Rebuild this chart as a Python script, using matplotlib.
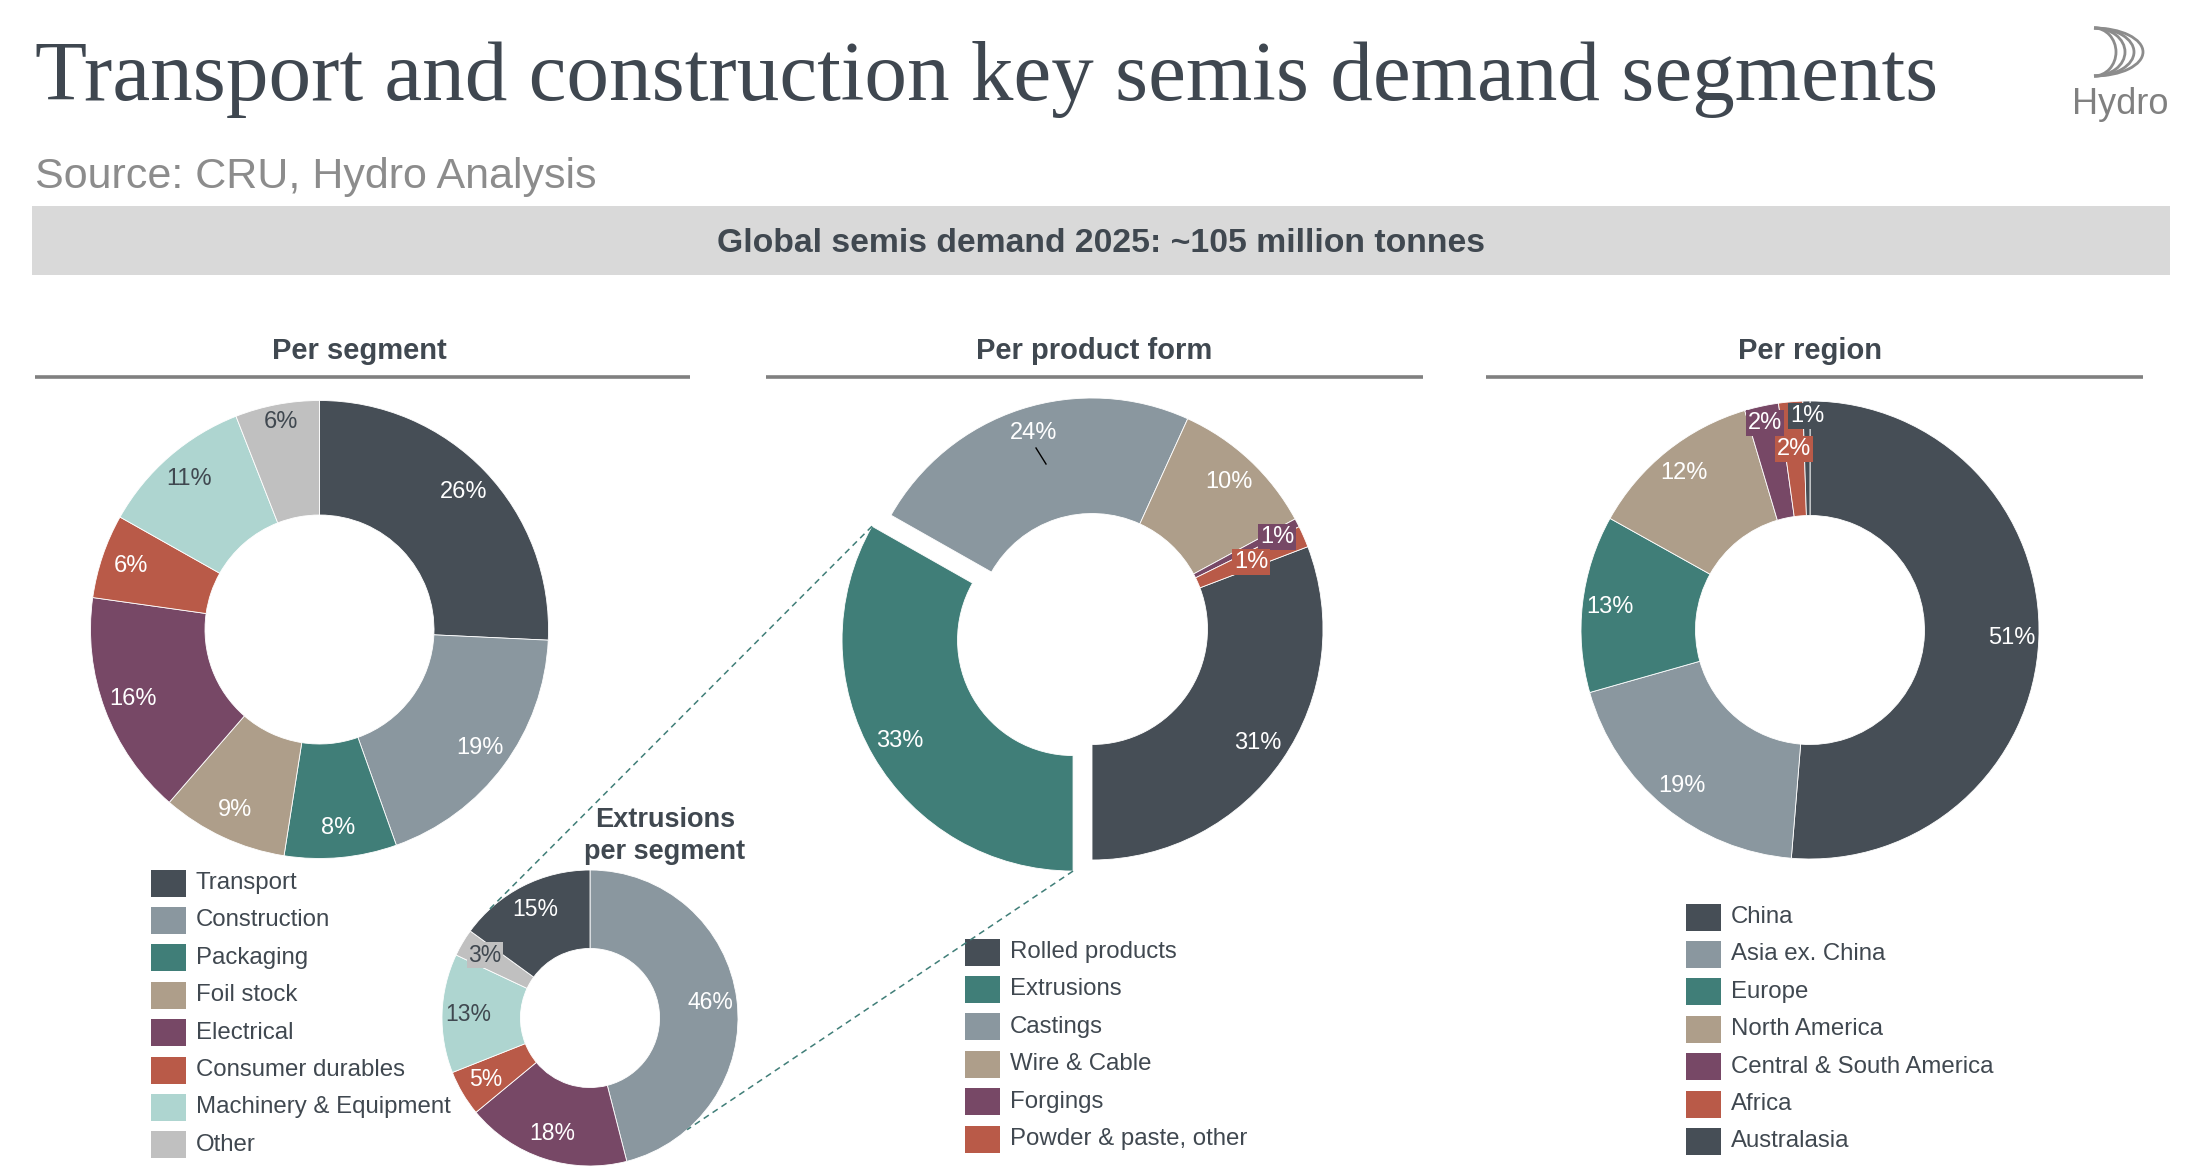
import matplotlib

matplotlib.use("Agg")
import matplotlib.pyplot as plt
from matplotlib.patches import Rectangle, Arc
import numpy as np

W, H = 2186, 1176

DARK = "#464e56"
BLUEGRAY = "#8a979f"
TEAL = "#407e78"
TAN = "#ae9e8a"
PURPLE = "#774866"
RED = "#b95a48"
LIGHTTEAL = "#aed5d0"
LIGHTGRAY = "#c0c0c0"
TEXT = "#404850"

SANS = ["Liberation Sans", "DejaVu Sans"]

# per segment (clockwise from 12 o'clock)
segment_names = ["Transport", "Construction", "Packaging", "Foil stock", "Electrical",
                 "Consumer durables", "Machinery & Equipment", "Other"]
segment_values = [26, 19, 8, 9, 16, 6, 11, 6]
segment_labels = ["26%", "19%", "8%", "9%", "16%", "6%", "11%", "6%"]
segment_colors = [DARK, BLUEGRAY, TEAL, TAN, PURPLE, RED, LIGHTTEAL, LIGHTGRAY]

# per product form
product_names = ["Rolled products", "Extrusions", "Castings", "Wire & Cable", "Forgings",
                 "Powder & paste, other"]
product_values = [30.8, 33.2, 23.6, 10.3, 0.6, 1.5]
product_labels = ["31%", "33%", "24%", "10%", "1%", "1%"]
product_colors = [DARK, TEAL, BLUEGRAY, TAN, PURPLE, RED]

# per region
region_names = ["China", "Asia ex. China", "Europe", "North America",
                "Central & South America", "Africa", "Australasia"]
region_values = [51.3, 19.3, 12.5, 12.3, 2.4, 1.7, 0.5]
region_labels = ["51%", "19%", "13%", "12%", "2%", "2%", "1%"]
region_colors = [DARK, BLUEGRAY, TEAL, TAN, PURPLE, RED, DARK]

# extrusions per segment (clockwise from 12 o'clock)
extr_names = ["Construction", "Electrical", "Consumer durables", "Machinery & Equipment",
              "Other", "Transport"]
extr_values = [46, 18, 5, 13, 3, 15]
extr_labels = ["46%", "18%", "5%", "13%", "3%", "15%"]
extr_colors = [BLUEGRAY, PURPLE, RED, LIGHTTEAL, LIGHTGRAY, DARK]


def yy(y):
    return H - y


def label_color(c):
    return TEXT if c in (LIGHTTEAL, LIGHTGRAY) else "white"


def donut(ax, values, colors, cx, cy, r, width, start, explode=None):
    if explode is not None:
        explode = [e * r for e in explode]  # pie offsets in data units
    wedges, _ = ax.pie(values, colors=colors, center=(cx, yy(cy)), radius=r,
                       startangle=start, counterclock=False, explode=explode,
                       frame=True,
                       wedgeprops=dict(width=width * r, edgecolor="white", linewidth=0.6))
    return wedges


def put_labels(ax, wedges, labels, colors, frac, size, placed=None):
    # placed: index -> (dx, dy from pie centre, boxed)
    placed = placed or {}
    x0, y0 = wedges[0].center
    for i, (w, lab, c) in enumerate(zip(wedges, labels, colors)):
        cx, cy = w.center
        if i in placed:
            dx, dy, use_box = placed[i]
            x, y = x0 + dx, y0 + dy
        else:
            a = np.deg2rad((w.theta1 + w.theta2) / 2)
            x, y = cx + frac * w.r * np.cos(a), cy + frac * w.r * np.sin(a)
            use_box = False
        bbox = dict(boxstyle="square,pad=0.08", fc=c, ec="none") if use_box else None
        ax.text(x, y, lab, ha="center", va="center", fontsize=size,
                color=label_color(c), family=SANS, bbox=bbox)


def legend(ax, names, colors, x, y0, step=37.4):
    for i, (n, c) in enumerate(zip(names, colors)):
        y = y0 + i * step
        ax.add_patch(Rectangle((x, yy(y) - 13.5), 35, 27, fc=c, ec="none"))
        ax.text(x + 45, yy(y), n, ha="left", va="center", fontsize=17.3,
                color=TEXT, family=SANS)


fig = plt.figure(figsize=(W / 100, H / 100), dpi=100)
ax = fig.add_axes([0, 0, 1, 1])

# title block
title = ax.text(35, yy(100), "Transport and construction key semis demand segments",
                ha="left", va="baseline", fontsize=60, color="#3f4750",
                family=["Liberation Serif", "DejaVu Serif"])
ax.text(35, yy(188), "Source: CRU, Hydro Analysis", ha="left", va="baseline",
        fontsize=31, color="#8c8c8c", family=SANS)
ax.add_patch(Rectangle((32, yy(275)), 2138, 69, fc="#d9d9d9", ec="none"))
ax.text(1101, yy(244), "Global semis demand 2025: ~105 million tonnes", ha="center",
        va="center", fontsize=24.3, fontweight="bold", color=TEXT, family=SANS)

# Hydro logo
for w in (22, 31, 40, 49):
    ax.add_patch(Arc((2094, yy(52)), 2 * w, 48, theta1=-90, theta2=90,
                     color="#8c8c8c", lw=2.0))
ax.text(2120, yy(114), "Hydro", ha="center", va="baseline", fontsize=26,
        color="#808080", family=SANS)

# section headers
for txt, xc, x0, x1 in [("Per segment", 359, 35, 690),
                        ("Per product form", 1094, 766, 1423),
                        ("Per region", 1810, 1486, 2143)]:
    ax.text(xc, yy(351), txt, ha="center", va="center", fontsize=21,
            fontweight="bold", color=TEXT, family=SANS)
    ax.plot([x0, x1], [yy(377), yy(377)], color="#808080", lw=2.6,
            solid_capstyle="butt")

# per segment
w_seg = donut(ax, segment_values, segment_colors, 319.5, 629.5, 229, 0.5, 90)
put_labels(ax, w_seg, segment_labels, segment_colors, 0.87, 17,
           placed={7: (-39, 208, False)})
legend(ax, segment_names, segment_colors, 151, 883)

# per product form
start = -90 + 360 * product_values[0] / sum(product_values)
w_prod = donut(ax, product_values, product_colors, 1092, 629, 231, 0.5, start,
               explode=[0, 0.095, 0, 0, 0, 0])
put_labels(ax, w_prod, product_labels, product_colors, 0.87, 17,
           placed={2: (-58, 196, False), 4: (185, 92, True), 5: (159, 67, True)})
ax.plot([1092 - 56, 1092 - 46], [yy(629) + 181, yy(629) + 165], color="black", lw=1)
legend(ax, product_names, product_colors, 965, 952)

# per region
w_reg = donut(ax, region_values, region_colors, 1810, 630, 229, 0.5, 90)
put_labels(ax, w_reg, region_labels, region_colors, 0.88, 17,
           placed={4: (-45, 207, True), 5: (-16, 181, True), 6: (-3, 214, True)})
legend(ax, region_names, region_colors, 1686, 917)

# extrusions per segment
w_ext = donut(ax, extr_values, extr_colors, 590, 1018, 148, 0.53, 90)
put_labels(ax, w_ext, extr_labels, extr_colors, 0.82, 16.5,
           placed={4: (-105, 63, True)})
ax.text(665, yy(836), "Extrusions\nper segment", ha="center", va="center",
        fontsize=19.5, fontweight="bold", color=TEXT, family=SANS, linespacing=1.3)

# connectors from exploded extrusions wedge to the small donut
ext = w_prod[1]
ecx, ecy = ext.center
scx, scy = w_ext[0].center
for a_big, a_small in [(ext.theta1, 134), (ext.theta2, -49)]:
    p0 = (ecx + ext.r * np.cos(np.deg2rad(a_big)), ecy + ext.r * np.sin(np.deg2rad(a_big)))
    p1 = (scx + 148 * np.cos(np.deg2rad(a_small)), scy + 148 * np.sin(np.deg2rad(a_small)))
    ax.plot([p0[0], p1[0]], [p0[1], p1[1]], color=TEAL, lw=1.1, ls=(0, (4, 3)))

ax.set_xlim(0, W)
ax.set_ylim(0, H)
ax.set_aspect("equal")
ax.axis("off")

# fit title width to the reference
fig.canvas.draw()
bb = title.get_window_extent()
title.set_fontsize(60 * 1903 / bb.width)

fig.savefig("out.png", dpi=100)
plt.close(fig)
